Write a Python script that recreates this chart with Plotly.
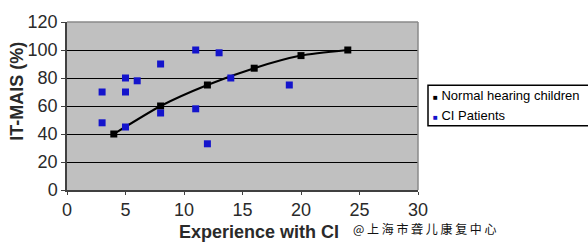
import plotly.graph_objects as go

# Data
normal_x = [4, 8, 12, 16, 20, 24]
normal_y = [40, 60, 75, 87, 96, 100]
ci_x = [3, 3, 5, 5, 5, 6, 8, 8, 11, 11, 12, 13, 14, 19]
ci_y = [70, 48, 80, 70, 45, 78, 90, 55, 100, 58, 33, 98, 80, 75]
x_ticks = [0, 5, 10, 15, 20, 25, 30]
y_ticks = [0, 20, 40, 60, 80, 100, 120]

FONT = "Arial, Liberation Sans, sans-serif"
BLUE = "#1414cc"
TXT = "#2a2a2a"

fig = go.Figure()
fig.add_trace(go.Scatter(x=normal_x, y=normal_y, mode="lines",
                         line=dict(color="black", width=2, shape="spline", smoothing=0.6),
                         showlegend=False, hoverinfo="skip"))
fig.add_trace(go.Scatter(x=normal_x, y=normal_y, mode="markers", name="Normal hearing children",
                         marker=dict(symbol="square", size=7, color="black"), showlegend=False))
fig.add_trace(go.Scatter(x=ci_x, y=ci_y, mode="markers", name="CI Patients",
                         marker=dict(symbol="square", size=7, color=BLUE), showlegend=False))

fig.update_layout(
    width=588, height=250,
    margin=dict(l=67, r=170, t=12, b=60),
    paper_bgcolor="white", plot_bgcolor="#c0c0c0",
    font=dict(family=FONT, color=TXT),
    showlegend=False,
)
fig.update_xaxes(range=[0, 30], tickvals=x_ticks, ticktext=[str(v) for v in x_ticks],
                 showgrid=False, zeroline=False, showline=True, linecolor="#404040", linewidth=1.5,
                 ticks="outside", ticklen=3, tickcolor="#404040", tickfont=dict(size=18, family=FONT, color=TXT))
fig.update_yaxes(range=[0, 120], tickvals=y_ticks, ticktext=[str(v) for v in y_ticks],
                 showgrid=True, gridcolor="black", gridwidth=1, zeroline=False,
                 showline=True, linecolor="#404040", linewidth=1.5,
                 ticks="outside", ticklen=4, tickcolor="#404040", tickfont=dict(size=18, family=FONT, color=TXT))

# top and right plot border (gray)
fig.add_shape(type="line", xref="paper", yref="paper", x0=0, x1=1, y0=1, y1=1,
              line=dict(color="#8a8a8a", width=1.5))
fig.add_shape(type="line", xref="paper", yref="paper", x0=1, x1=1, y0=0, y1=1,
              line=dict(color="#8a8a8a", width=1.5))

# axis titles
fig.add_annotation(text="<b>Experience with CI</b>", xref="paper", yref="paper",
                   x=(259 - 67) / 351, y=(190 - 235) / 178, showarrow=False,
                   font=dict(size=18, family=FONT, color=TXT), xanchor="center", yanchor="middle")
fig.add_annotation(text="<b>IT-MAIS (%)</b>", xref="paper", yref="paper",
                   x=(17 - 67) / 351, y=(190 - 86) / 178, showarrow=False, textangle=-90,
                   font=dict(size=18, family=FONT, color=TXT), xanchor="center", yanchor="middle")

# custom legend
lx0, lx1, ly0, ly1 = 428, 590, 79, 122
fig.add_shape(type="rect", xref="paper", yref="paper",
              x0=(lx0 - 67) / 351, x1=(lx1 - 67) / 351,
              y0=(190 - ly1) / 178, y1=(190 - ly0) / 178,
              line=dict(color="black", width=1.5), fillcolor="white")
fig.add_annotation(text='<span style="font-size:8px">■</span> Normal hearing children',
                   xref="paper", yref="paper", x=(431 - 67) / 351, y=(190 - 90) / 178,
                   showarrow=False, xanchor="left", yanchor="middle",
                   font=dict(size=13, family=FONT, color="black"))
fig.add_annotation(text='<span style="font-size:8px;color:%s">■</span> CI Patients' % BLUE,
                   xref="paper", yref="paper", x=(431 - 67) / 351, y=(190 - 111) / 178,
                   showarrow=False, xanchor="left", yanchor="middle",
                   font=dict(size=13, family=FONT, color="black"))

# watermark
fig.add_annotation(text="@ 上 海 市 聋 儿 康 复 中 心", xref="paper", yref="paper",
                   x=(351 - 67) / 351, y=(190 - 231) / 178, showarrow=False,
                   xanchor="left", yanchor="middle",
                   font=dict(size=12, family="Noto Sans CJK SC", color="#111"))

fig.write_html("out.html")
